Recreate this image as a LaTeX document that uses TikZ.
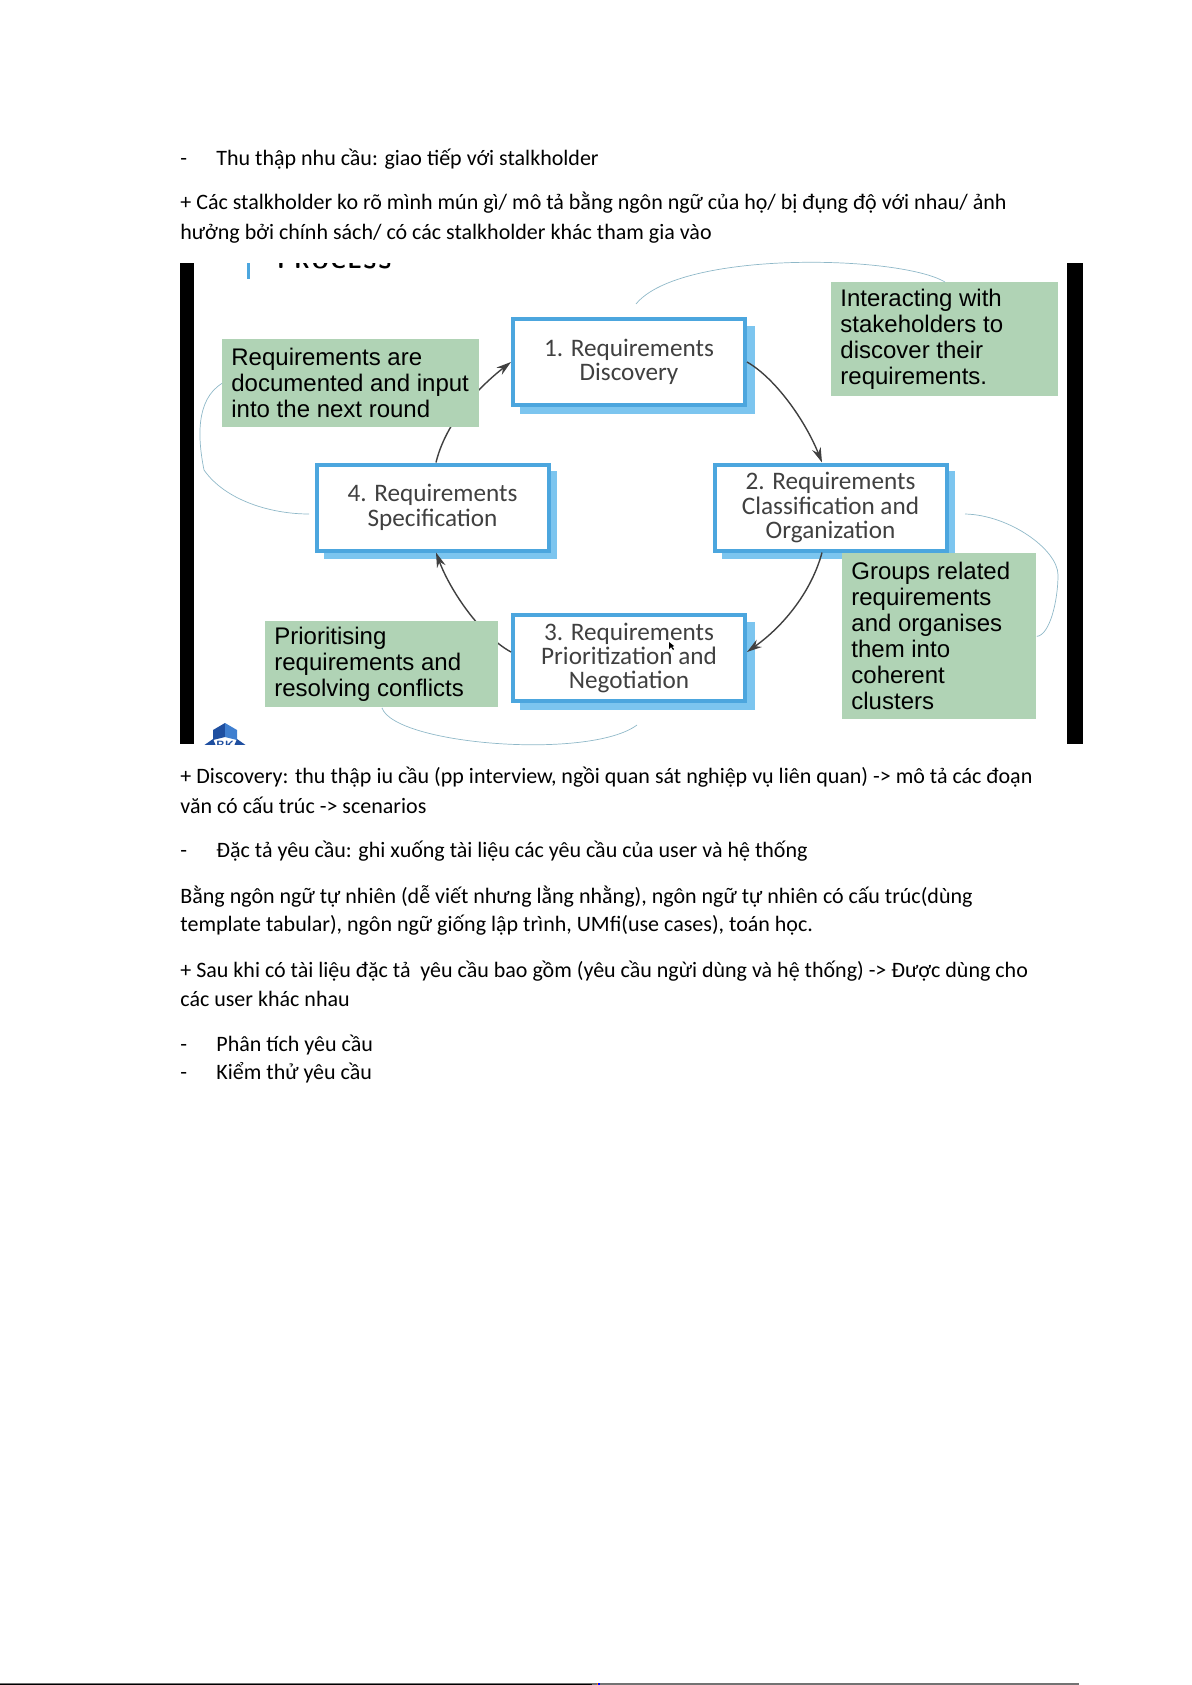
\documentclass[tikz,border=0pt]{standalone}
\usepackage{fontspec}
\setmainfont{Carlito}
\newfontfamily\arialfont{Liberation Sans}
\usetikzlibrary{arrows.meta,positioning,calc}
\begin{document}
\begin{tikzpicture}[
    x=0.5pt, y=-0.5pt,
    line/.style={anchor=base west, inner sep=0pt, font=\fontsize{11}{13}\selectfont},
    stepbox/.style={draw=boxblue, line width=2pt, fill=white, align=center, inner sep=0pt, minimum width=116pt, minimum height=43pt, font=\fontsize{12.6}{12.2}\selectfont, text=black!75},
    note/.style={fill=notegreen, anchor=north west, align=flush left, inner xsep=4.5pt, inner ysep=0pt, font=\arialfont\fontsize{12}{13}\selectfont, text=black},
    arr/.style={-{Stealth[length=7.5pt,width=4.5pt]}, line width=0.7pt, draw=black!75},
    leader/.style={line width=0.35pt, draw=leaderblue}
]
\definecolor{boxblue}{HTML}{4CA6DE}
\definecolor{boxshade}{HTML}{7CC5EF}
\definecolor{notegreen}{HTML}{B0D3B5}
\definecolor{leaderblue}{HTML}{8FB8C8}
\definecolor{logoblue}{HTML}{1F4FA0}
\definecolor{logolight}{HTML}{3F7FD0}
\useasboundingbox (0,0) rectangle (1191,1685);

\node[line] (l1a) at (180,166) {-};
\node[line] (l1) at (216,166) {Thu thập nhu cầu: giao tiếp với stalkholder};
\node[line] (l2) at (180,210) {+ Các stalkholder ko rõ mình mún gì/ mô tả bằng ngôn ngữ của họ/ bị đụng độ với nhau/ ảnh};
\node[line] (l3) at (180,240) {hưởng bởi chính sách/ có các stalkholder khác tham gia vào};
\node[line] (l4) at (180,783) {+ Discovery: thu thập iu cầu (pp interview, ngồi quan sát nghiệp vụ liên quan) -> mô tả các đoạn};
\node[line] (l5) at (180,813) {văn có cấu trúc -> scenarios};
\node[line] (l6a) at (180,857) {-};
\node[line] (l6) at (216,857) {Đặc tả yêu cầu: ghi xuống tài liệu các yêu cầu của user và hệ thống};
\node[line] (l7) at (180,903) {Bằng ngôn ngữ tự nhiên (dễ viết nhưng lằng nhằng), ngôn ngữ tự nhiên có cấu trúc(dùng};
\node[line] (l8) at (180,931) {template tabular), ngôn ngữ giống lập trình, UMfi(use cases), toán học.};
\node[line] (l9) at (180,977) {+ Sau khi có tài liệu đặc tả\ \ yêu cầu bao gồm (yêu cầu ngừi dùng và hệ thống) -> Được dùng cho};
\node[line] (l10) at (180,1006) {các user khác nhau};
\node[line] (l11a) at (180,1051) {-};
\node[line] (l11) at (216,1051) {Phân tích yêu cầu};
\node[line] (l12a) at (180,1079) {-};
\node[line] (l12) at (216,1079) {Kiểm thử yêu cầu};

\fill (180,263) rectangle (194,744);
\fill (1067,263) rectangle (1083,744);
\begin{scope}
\clip (194,263) rectangle (1067,744);
\fill[boxblue] (247,263) rectangle (250,279);
\node[anchor=base west, inner sep=0pt, font=\sffamily\bfseries\fontsize{11}{11}\selectfont] (title) at (277,269) {P\kern.8pt R\kern.8pt O\kern.8pt C\kern.8pt E\kern.8pt S\kern.8pt S};
\fill[logoblue] (225,723) -- (213,730) -- (213,740) -- (225,737) -- cycle;
\fill[logolight] (225,723) -- (237,730) -- (237,740) -- (225,737) -- cycle;
\fill[logoblue] (203,746) -- (213,739) -- (216,746) -- cycle;
\fill[logoblue] (247,746) -- (237,739) -- (234,746) -- cycle;
\node[font=\sffamily\bfseries\fontsize{6}{6}\selectfont, text=logoblue, inner sep=0pt] (logo) at (225,745) {BK};
\end{scope}

\fill[boxshade] (520,326) rectangle (755,414);
\fill[boxshade] (722,471) rectangle (955,559);
\fill[boxshade] (520,622) rectangle (755,710);
\fill[boxshade] (324,471) rectangle (557,559);
\node[stepbox] (discovery) at (629,362) {1. Requirements\\Discovery};
\node[stepbox] (classify) at (830.5,507.5) {2. Requirements\\Classification and\\Organization};
\node[stepbox] (prioritize) at (629,658) {3. Requirements\\Prioritization and\\Negotiation};
\node[stepbox] (spec) at (432.5,507.5) {4. Requirements\\Specification};

\draw[arr] (discovery.east) .. controls (775,378) and (805,420) .. ($(classify.north)+(-8.5,0)$);
\draw[arr] ($(classify.south)+(-8.5,0)$) .. controls (812,590) and (785,625) .. ($(prioritize.east)+(0,-6)$);
\draw[arr] ($(prioritize.west)+(0,-6)$) .. controls (480,635) and (450,590) .. ($(spec.south)+(3.5,0)$);
\draw[arr] ($(spec.north)+(3.5,0)$) .. controls (445,425) and (475,390) .. (discovery.west);

\node[note, text width=119.5pt, minimum height=44pt] (stored) at (222,339) {Requirements are\\\mbox{documented and input}\\into the next round};
\node[note, text width=104.5pt, minimum height=57pt] (interact) at (831,282) {Interacting with\\stakeholders to\\discover their\\requirements.};
\node[note, text width=107.5pt, minimum height=43pt] (resolve) at (265,621) {Prioritising\\requirements and\\resolving conflicts};
\node[note, text width=88pt, minimum height=83pt] (group) at (842,553) {Groups related\\requirements\\and organises\\them into\\coherent\\clusters};

\coordinate (c1) at (636,304);
\coordinate (c2) at (309,514);
\coordinate (c3) at (965,514);
\coordinate (c4) at (637,725);
\draw[leader] (interact.north) .. controls (900,255) and (680,250) .. (c1);
\draw[leader] (stored.west) .. controls (195,400) and (198,440) .. (204,470) .. controls (225,500) and (270,514) .. (c2);
\draw[leader] (c3) .. controls (1010,515) and (1058,550) .. (1058,575) .. controls (1058,600) and (1050,635) .. (group.east);
\draw[leader] (resolve.south) .. controls (395,745) and (590,760) .. (c4);

\fill (669,642) -- (669,649) -- (671,647) -- (673,650) -- (674,649) -- (672,647) -- (674,646) -- cycle;

\fill[black!55] (0,1682.5) rectangle (1079,1684.5);
\fill[black] (0,1683.5) rectangle (592,1685);
\fill[orange] (597,1683) rectangle (598,1685);
\fill[blue] (598,1683) rectangle (599.5,1685);
\end{tikzpicture}
\end{document}
